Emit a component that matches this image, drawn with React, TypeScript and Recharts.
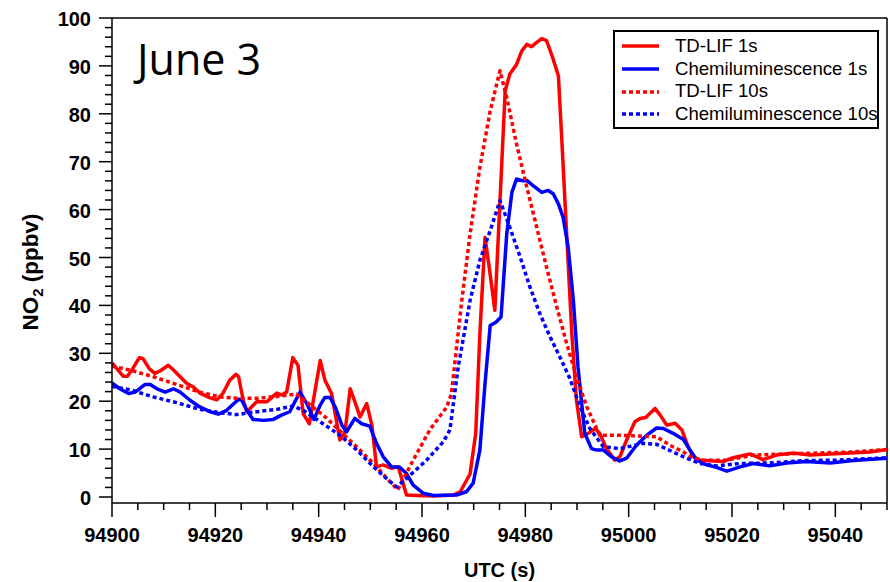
import { LineChart, Line, XAxis, YAxis, ReferenceLine, Legend } from "recharts";

// TD-LIF, 1 s data
const tdlif1sTime = [
  94900, 94902.2, 94903, 94904, 94905.3, 94906, 94907.2, 94908.3, 94909.3, 94910.9,
  94911.9, 94913.2, 94914.5, 94915.7, 94917, 94919, 94920.3, 94921.5, 94922.8, 94924,
  94924.5, 94925.4, 94926.1, 94927, 94928, 94930, 94931.9, 94932.8, 94933.8, 94935,
  94936, 94937, 94938.2, 94940.3, 94941.2, 94942.5, 94944.1, 94945.1, 94946.1, 94947,
  94948, 94949.3, 94950.3, 94951.2, 94952.5, 94954.1, 94955.4, 94957, 94959, 94962.2,
  94966, 94967.4, 94969.3, 94970.4, 94971.2, 94972.2, 94973, 94974.1, 94976.1, 94977,
  94978.3, 94979.3, 94980.3, 94981.2, 94982.2, 94983.2, 94984.1, 94985.3, 94986.4, 94987,
  94988, 94989, 94989.9, 94990.9, 94992.2, 94993.5, 94994.4, 94995.7, 94997.3, 94998.3,
  94999.6, 95001.2, 95002.2, 95003.3, 95005.1, 95006.1, 95007.4, 95009, 95010.3, 95011.5,
  95012.5, 95013.8, 95016.4, 95018.3, 95020.2, 95023.5, 95026, 95028.6, 95031.9, 95035.1,
  95039, 95042.8, 95046.7, 95050,
];
const tdlif1sNO2 = [
  28.0, 25.2, 25.2, 26.8, 29.1, 28.9, 26.8, 25.8, 26.3, 27.5,
  26.5, 25.1, 23.7, 23.0, 21.7, 20.7, 20.3, 21.7, 24.4, 25.6,
  25.1, 20.2, 17.8, 18.8, 19.9, 19.9, 21.7, 21.3, 21.9, 29.1,
  27.5, 17.4, 15.3, 28.5, 24.4, 21.6, 11.9, 13.6, 22.6, 19.9,
  16.7, 19.5, 15.0, 6.3, 6.7, 6.0, 6.3, 0.4, 0.3, 0.2,
  0.4, 1.1, 4.8, 13.3, 34.0, 54.2, 48.0, 39.0, 84.8, 88.3,
  90.3, 93.1, 94.5, 94.0, 94.9, 95.7, 95.3, 91.7, 87.9, 75.8,
  54.9, 34.1, 20.2, 12.6, 13.3, 14.3, 13.3, 10.1, 7.7, 8.4,
  11.9, 15.7, 16.4, 16.6, 18.5, 17.1, 15.0, 15.4, 14.0, 10.5,
  8.4, 7.7, 7.5, 7.4, 8.2, 9.0, 7.8, 8.75, 9.2, 8.75,
  9.0, 9.2, 9.4, 9.9,
];

// Chemiluminescence, 1 s data
const chemi1sTime = [
  94900, 94901.5, 94903.2, 94904.5, 94906.4, 94907.4, 94908.7, 94910.3, 94911.9, 94913.2,
  94915.1, 94917, 94919, 94920.6, 94922.2, 94924.5, 94925.1, 94926.1, 94927.3, 94929.3,
  94931.2, 94932.8, 94934.4, 94935.4, 94936.4, 94937.7, 94939.1, 94940.3, 94941.2, 94942.2,
  94943.2, 94944.5, 94945.4, 94947, 94948.3, 94949.9, 94951.2, 94952.5, 94954.1, 94955.7,
  94957, 94958.3, 94960.2, 94962.2, 94966.7, 94968.6, 94969.9, 94971.2, 94972.2, 94973.2,
  94974.3, 94975.3, 94976.4, 94977.4, 94978.3, 94979.5, 94980.4, 94981.5, 94983.2, 94984.4,
  94985.4, 94986.4, 94987.3, 94988.3, 94989.3, 94990.2, 94991.5, 94992.8, 94993.8, 94995.1,
  94996.7, 94998.2, 94999.6, 95001.5, 95003.5, 95005.4, 95006.7, 95008.6, 95010.6, 95011.9,
  95013.2, 95015.1, 95017, 95019, 95021.6, 95024.1, 95027.3, 95030.6, 95034.4, 95039,
  95043.5, 95050,
];
const chemi1sNO2 = [
  23.8, 22.6, 21.6, 21.9, 23.5, 23.5, 22.6, 21.9, 22.6, 21.9,
  20.2, 18.8, 17.8, 17.3, 18.1, 20.4, 20.2, 18.1, 16.2, 16.0,
  16.2, 17.1, 17.8, 19.9, 21.9, 19.5, 16.2, 19.2, 20.8, 20.8,
  18.8, 15.0, 13.6, 16.4, 15.3, 14.8, 11.2, 8.4, 6.3, 6.2,
  4.9, 2.5, 0.8, 0.3, 0.4, 1.1, 2.9, 9.8, 23.7, 35.8,
  36.5, 37.6, 54.9, 63.6, 66.4, 66.0, 66.0, 65.0, 63.6, 64.0,
  63.3, 61.2, 58.4, 52.1, 41.0, 27.1, 13.3, 10.1, 9.8, 9.8,
  8.4, 7.5, 8.1, 10.8, 12.9, 14.4, 14.3, 13.3, 12.0, 9.8,
  7.7, 6.7, 6.2, 5.4, 6.3, 7.0, 6.5, 7.1, 7.4, 7.1,
  7.6, 8.1,
];

// TD-LIF, 10 s averages
const tdlif10sTime = [
  94900, 94903.5, 94908, 94912.5, 94917, 94920.9, 94924.1, 94928, 94931.9, 94935.7,
  94937.7, 94941.5, 94944.5, 94947.5, 94950.6, 94953.2, 94955.3, 94958.3, 94961.5, 94964.8,
  94965.7, 94967.7, 94969.3, 94971.2, 94973.2, 94975.1, 94976.4, 94978.3, 94980.3, 94982.2,
  94984.1, 94986.1, 94988, 94989.9, 94991.9, 94994.4, 94997.7, 95005.4, 95008, 95010.6,
  95012.5, 95014.4, 95019, 95024.1, 95030.6, 95037, 95043.5, 95050,
];
const tdlif10sNO2 = [
  27.3, 26.5, 25.1, 23.5, 21.9, 20.9, 20.6, 20.6, 21.0, 21.5,
  19.8, 16.5, 13.4, 10.3, 7.0, 3.9, 1.5, 7.7, 14.0, 18.8,
  21.6, 41.0, 54.9, 68.8, 80.6, 89.0, 83.4, 73.7, 64.6, 56.3,
  48.0, 39.6, 32.0, 25.1, 18.8, 12.9, 12.9, 12.6, 10.8, 9.4,
  8.1, 7.7, 7.7, 8.75, 9.0, 9.2, 9.4, 9.9,
];

// Chemiluminescence, 10 s averages
const chemi10sTime = [
  94900, 94903.5, 94908, 94912.5, 94917, 94920.9, 94924.1, 94928, 94931.9, 94935.1,
  94937, 94940.3, 94944.1, 94947.4, 94950.6, 94953.5, 94955.1, 94957, 94960.9, 94964.1,
  94965.4, 94967, 94969.3, 94971.2, 94973.2, 94975.1, 94977, 94979, 94980.9, 94982.8,
  94984.8, 94986.7, 94988.6, 94990.6, 94992.5, 94995.1, 94998.3, 95002.8, 95005.4, 95008.6,
  95011.2, 95013.8, 95017, 95021.6, 95027.3, 95033.8, 95040.2, 95050,
];
const chemi10sNO2 = [
  23.1, 22.4, 20.9, 19.7, 18.3, 17.6, 17.2, 17.8, 18.3, 19.0,
  18.1, 15.7, 12.9, 9.8, 6.3, 3.5, 2.1, 3.9, 7.7, 11.5,
  14.0, 27.1, 41.0, 49.4, 55.6, 61.9, 56.3, 50.1, 43.8, 38.3,
  33.4, 29.2, 24.8, 18.8, 14.3, 10.5, 10.1, 11.2, 11.0, 9.4,
  8.1, 7.0, 6.5, 7.0, 7.1, 7.6, 7.7, 8.2,
];

const xMajorTicks = [94900, 94920, 94940, 94960, 94980, 95000, 95020, 95040];
const yMajorTicks = [0, 10, 20, 30, 40, 50, 60, 70, 80, 90, 100];
const xTicks = Array.from({ length: 31 }, (_, i) => 94900 + i * 5);
const yTicks = Array.from({ length: 51 }, (_, i) => i * 2);

const pairs = (t: number[], v: number[]) => t.map((x, i) => ({ t: x, v: v[i] }));

const series = [
  { name: "TD-LIF 1s", data: pairs(tdlif1sTime, tdlif1sNO2), color: "#ff0000", dash: undefined },
  { name: "Chemiluminescence 1s", data: pairs(chemi1sTime, chemi1sNO2), color: "#0000ff", dash: undefined },
  { name: "TD-LIF 10s", data: pairs(tdlif10sTime, tdlif10sNO2), color: "#ff0000", dash: "4 3" },
  { name: "Chemiluminescence 10s", data: pairs(chemi10sTime, chemi10sNO2), color: "#0000ff", dash: "4 3" },
];

const FONT = "'Liberation Sans', Arial, Helvetica, sans-serif";

// eslint-disable-next-line @typescript-eslint/no-explicit-any
const XTick = ({ x, y, payload }: any) => {
  const major = xMajorTicks.includes(payload.value);
  return (
    <g>
      <line x1={x} x2={x} y1={y} y2={y + (major ? 14 : 7)} stroke="#000" strokeWidth={1.5} />
      {major && (
        <text x={x} y={y + 39} textAnchor="middle" fontSize={20} fontWeight="bold" fontFamily={FONT} fill="#000">
          {payload.value}
        </text>
      )}
    </g>
  );
};

// eslint-disable-next-line @typescript-eslint/no-explicit-any
const YTick = ({ x, y, payload }: any) => {
  const major = yMajorTicks.includes(payload.value);
  return (
    <g>
      <line x1={x - (major ? 13 : 7)} x2={x} y1={y} y2={y} stroke="#000" strokeWidth={1.5} />
      {major && (
        <text x={x - 21} y={y + 8} textAnchor="end" fontSize={20} fontWeight="bold" fontFamily={FONT} fill="#000">
          {payload.value}
        </text>
      )}
    </g>
  );
};

const LegendBox = () => (
  <div
    style={{
      boxSizing: "border-box",
      width: 266,
      height: 99,
      border: "2px solid #000",
      background: "#fff",
      paddingTop: 3,
      fontFamily: FONT,
      fontSize: 18.6,
      color: "#000",
      whiteSpace: "nowrap",
    }}
  >
    {series.map((s) => (
      <div key={s.name} style={{ display: "flex", alignItems: "center", height: 22.7 }}>
        <svg width={52} height={10} style={{ marginLeft: 7, flexShrink: 0 }}>
          <line x1={0} x2={37} y1={5} y2={5} stroke={s.color} strokeWidth={3.5} strokeDasharray={s.dash} />
        </svg>
        <span style={{ marginLeft: 1, lineHeight: 1 }}>{s.name}</span>
      </div>
    ))}
  </div>
);

export default function App() {
  return (
    <div style={{ position: "absolute", left: 0, top: 0, width: 890, height: 582, background: "#fff" }}>
      <LineChart width={890} height={582} margin={{ top: 18, right: 3, bottom: 0, left: 0 }}>
        <XAxis
          dataKey="t"
          type="number"
          domain={[94900, 95050]}
          ticks={xTicks}
          interval={0}
          allowDataOverflow
          height={79}
          tickSize={0}
          tickMargin={0}
          tickLine={false}
          axisLine={{ stroke: "#000", strokeWidth: 1.5 }}
          tick={<XTick />}
          label={{
            // eslint-disable-next-line @typescript-eslint/no-explicit-any
            content: (p: any) => (
              <text
                x={p.viewBox.x + p.viewBox.width / 2}
                y={p.viewBox.y + 74}
                textAnchor="middle"
                fontSize={20}
                fontWeight="bold"
                fontFamily={FONT}
                fill="#000"
              >
                UTC (s)
              </text>
            ),
          }}
        />
        <YAxis
          type="number"
          domain={[-1.25, 100]}
          ticks={yTicks}
          interval={0}
          allowDataOverflow
          width={112}
          tickSize={0}
          tickMargin={0}
          tickLine={false}
          axisLine={{ stroke: "#000", strokeWidth: 1.5 }}
          tick={<YTick />}
          label={{
            content: () => (
              <text
                transform="translate(38,272) rotate(-90)"
                textAnchor="middle"
                fontSize={22.5}
                fontWeight="bold"
                fontFamily={FONT}
                fill="#000"
              >
                NO
                <tspan dy={5} fontSize={15}>2</tspan>
                <tspan dy={-5}> (ppbv)</tspan>
              </text>
            ),
          }}
        />
        <ReferenceLine y={100} stroke="#000" strokeWidth={1.5} />
        <ReferenceLine x={95050} stroke="#000" strokeWidth={1.5} />
        {series.map((s) => (
          <Line
            key={s.name}
            data={s.data}
            dataKey="v"
            name={s.name}
            type="linear"
            stroke={s.color}
            strokeWidth={3.5}
            strokeDasharray={s.dash}
            strokeLinejoin="round"
            dot={false}
            activeDot={false}
            isAnimationActive={false}
          />
        ))}
        <Legend
          layout="horizontal"
          verticalAlign="middle"
          align="center"
          wrapperStyle={{ position: "absolute", left: 613, top: 30, width: 266, height: 99 }}
          content={<LegendBox />}
        />
      </LineChart>
      <svg width={890} height={582} style={{ position: "absolute", left: 0, top: 0, pointerEvents: "none" }}>
        <text x={137} y={75} fontSize={43} fontFamily="'Open Sans', 'Noto Sans', sans-serif" fill="#000">
          June 3
        </text>
      </svg>
    </div>
  );
}
